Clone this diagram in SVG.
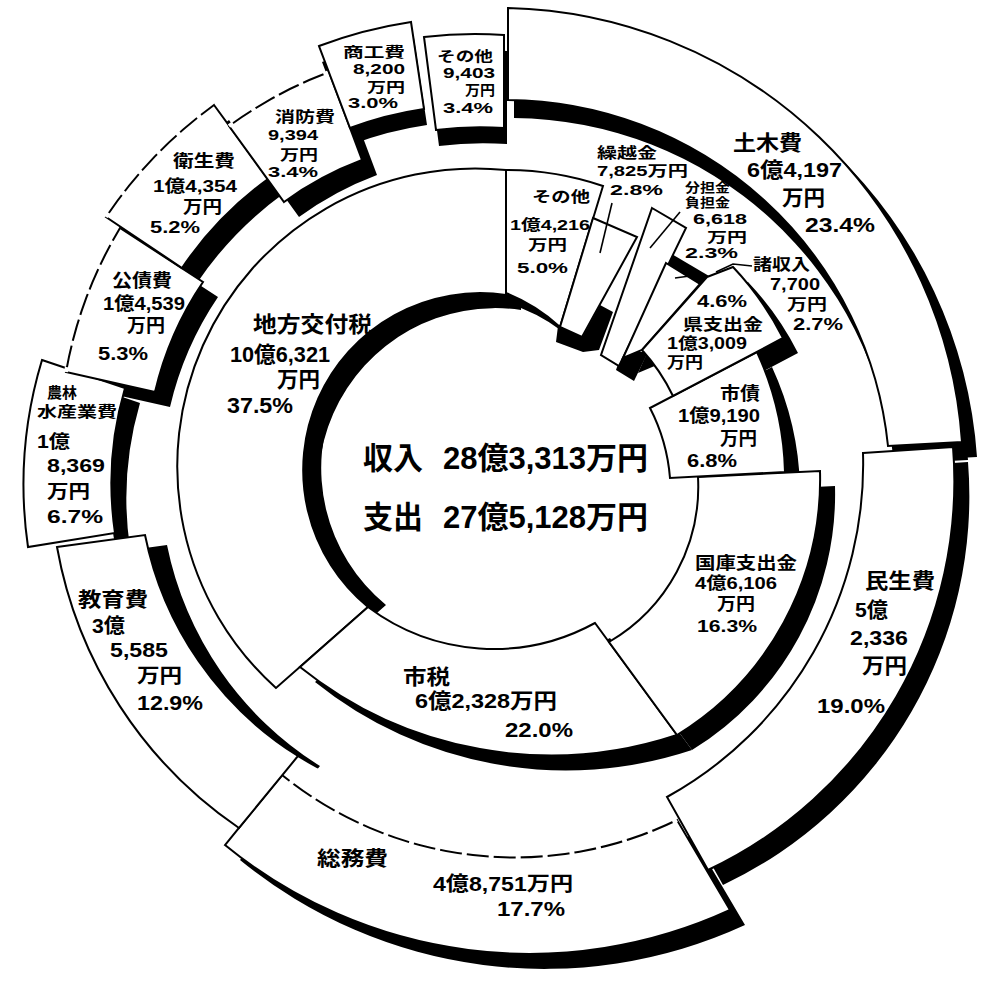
<svg xmlns="http://www.w3.org/2000/svg" width="985" height="985" viewBox="0 0 985 985">
<style>
.pc{fill:#fff;stroke:#000;stroke-width:2;stroke-linejoin:miter}
.dsh{fill:none;stroke:#fff;stroke-width:4;stroke-dasharray:5 22}
.ld{fill:none;stroke:#000;stroke-width:1.6}
text{font-family:"Liberation Sans","Noto Sans CJK JP","Noto Sans CJK SC",sans-serif;font-weight:700;fill:#000}
.f31{font-size:31px}.f22{font-size:22px}.f21{font-size:21px}.f20{font-size:20px}.f18{font-size:18px}.f17{font-size:17px}.f16{font-size:16px}.f15{font-size:15px}.f14{font-size:14px}.f13{font-size:13px}
</style>
<rect width="985" height="985" fill="#fff"/>
<defs>
<clipPath id="cHole"><circle cx="480" cy="470" r="178"/></clipPath>
<clipPath id="cIn341"><circle cx="477" cy="467" r="341"/></clipPath>
<clipPath id="cIn370"><circle cx="477" cy="467" r="370"/></clipPath>
<clipPath id="cBarEnd"><rect x="585" y="352" width="70" height="50"/></clipPath>
<clipPath id="cOut290"><path clip-rule="evenodd" d="M0,0H985V985H0Z M187,467 A290,290 0 1 0 767,467 A290,290 0 1 0 187,467 Z"/></clipPath>
<path id="p-chihou" d="M506,170 A298,298 0 0 0 276,688 L368,607 A177,177 0 0 1 506,295 Z"/>
<path id="p-shizei" d="M368,607 L300,667 A400,400 0 0 0 677,735 L595,623 A210,210 0 0 1 368,607 Z"/>
<path id="p-kokko" d="M698,477 L820,471 A300,300 0 0 1 677,735 L609,642 A180,180 0 0 0 698,477 Z"/>
<path id="p-shisai" d="M650,408 L757,352 A305,305 0 0 1 785,472 L670,478 A185,185 0 0 0 650,408 Z"/>
<path id="p-ken" d="M707,277 L733,267 A300,300 0 0 1 783,338 L673,396 A190,190 0 0 0 642,350 Z"/>
<path id="p-sho" d="M666,263 L700,284 L642,350 L623,358 Z"/>
<path id="p-buntan" d="M652,208 L686,228 L619,366 L601,355 Z"/>
<path id="p-kurikoshi" d="M593,218 L637,237 L582,337 L560,327 Z"/>
<path id="p-sonota-r" d="M506,170 A300,300 0 0 1 603,186 L560,327 A175,175 0 0 0 506,293 Z"/>
<path id="p-doboku" d="M508,8 A466,466 0 0 1 962,442 L888,446 A385,385 0 0 0 508,100 Z"/>
<path id="p-minsei" d="M863,453 L953,447 A430,430 0 0 1 708,870 L667,797 A380,380 0 0 0 863,453 Z"/>
<path id="p-soumu" d="M225,845 A480,480 0 0 0 730,910 L677,820 A370,370 0 0 1 282,775 Z"/>
<path id="p-kyoiku" d="M57,547 L145,535 A340,340 0 0 0 298,756 L239,828 A432,432 0 0 1 57,547 Z"/>
<path id="p-nourin" d="M42,360 L125,388 A342,342 0 0 0 115,533 L28,547 A432,432 0 0 1 42,360 Z"/>
<path id="p-kousai" d="M120,228 L203,282 A330,330 0 0 0 155,392 L66,372 A425,425 0 0 1 120,228 Z"/>
<path id="p-eisei" d="M214,105 L268,179 A356,356 0 0 0 182,268 L106,217 A447,447 0 0 1 214,105 Z"/>
<path id="p-shoubou" d="M229,126 A422,422 0 0 1 329,72 L362,160 A328,328 0 0 0 284,202 Z"/>
<path id="p-shoukou" d="M319,46 A450,450 0 0 1 411,22 L424,109 A362,362 0 0 0 350,128 Z"/>
<path id="p-sonota-e" d="M424,37 A433,433 0 0 1 504,35 L504,128 A340,340 0 0 0 436,130 Z"/>
</defs>

<g id="shadows" fill="#000">
<g clip-path="url(#cHole)">
<use href="#p-chihou" transform="translate(15 15)"/><use href="#p-chihou" transform="translate(18 -2)"/>
<use href="#p-sonota-r" transform="translate(15 15)"/>
</g>
<g clip-path="url(#cIn341)"><use href="#p-kyoiku" transform="translate(22 10)"/></g>
<g clip-path="url(#cIn370)"><use href="#p-nourin" transform="translate(15 15)"/></g>
<g clip-path="url(#cOut290)"><use href="#p-shisai" transform="translate(15 15)"/></g>
<g clip-path="url(#cBarEnd)"><use href="#p-buntan" transform="translate(15 15)"/></g>
<use href="#p-doboku" transform="translate(6 18)"/>
<g transform="translate(15 15)">
<use href="#p-shizei"/><use href="#p-kokko"/><use href="#p-ken"/><use href="#p-sho"/>
<use href="#p-doboku"/><use href="#p-minsei"/><use href="#p-soumu"/><use href="#p-kousai"/><use href="#p-eisei"/><use href="#p-shoubou"/>
</g>
<g transform="translate(3 16)"><use href="#p-shoukou"/><use href="#p-sonota-e"/></g>
<path d="M558,326 L583,336 L600,305 L613,312 L599,350 L583,352 L556,342 Z"/>
<path d="M670,253 L709,276 L702,286 L665,263 Z"/>
</g>

<!-- expenditure ring -->
<g id="exp-doboku"><use href="#p-doboku" class="pc"/>
<text class="f21" x="733" y="150" textLength="69" lengthAdjust="spacingAndGlyphs">土木費</text>
<text class="f21" x="747" y="177" textLength="95" lengthAdjust="spacingAndGlyphs">6億4,197</text>
<text class="f21" x="782" y="205" textLength="43" lengthAdjust="spacingAndGlyphs">万円</text>
<text class="f21" x="805" y="232" textLength="70" lengthAdjust="spacingAndGlyphs">23.4%</text>
</g>
<g id="exp-minsei"><use href="#p-minsei" class="pc"/>
<text class="f21" x="865" y="588" textLength="70" lengthAdjust="spacingAndGlyphs">民生費</text>
<text class="f21" x="855" y="617" textLength="33" lengthAdjust="spacingAndGlyphs">5億</text>
<text class="f21" x="850" y="645" textLength="58" lengthAdjust="spacingAndGlyphs">2,336</text>
<text class="f21" x="862" y="673" textLength="45" lengthAdjust="spacingAndGlyphs">万円</text>
<text class="f21" x="817" y="713" textLength="68" lengthAdjust="spacingAndGlyphs">19.0%</text>
</g>
<g id="exp-soumu"><use href="#p-soumu" class="pc"/>
<path class="dsh" d="M677,820 A370,370 0 0 1 282,775"/>
<text class="f20" x="317" y="866" textLength="71" lengthAdjust="spacingAndGlyphs">総務費</text>
<text class="f20" x="433" y="891" textLength="140" lengthAdjust="spacingAndGlyphs">4億8,751万円</text>
<text class="f20" x="497" y="916" textLength="68" lengthAdjust="spacingAndGlyphs">17.7%</text>
</g>
<g id="exp-kyoiku"><use href="#p-kyoiku" class="pc"/>
<text class="f20" x="78" y="607" textLength="70" lengthAdjust="spacingAndGlyphs">教育費</text>
<text class="f20" x="92" y="633" textLength="33" lengthAdjust="spacingAndGlyphs">3億</text>
<text class="f20" x="110" y="657" textLength="58" lengthAdjust="spacingAndGlyphs">5,585</text>
<text class="f20" x="137" y="683" textLength="45" lengthAdjust="spacingAndGlyphs">万円</text>
<text class="f20" x="137" y="710" textLength="66" lengthAdjust="spacingAndGlyphs">12.9%</text>
</g>
<g id="exp-nourin"><use href="#p-nourin" class="pc"/>
<text class="f15" x="47" y="398" textLength="30" lengthAdjust="spacingAndGlyphs">農林</text>
<text class="f15" x="37" y="417" textLength="80" lengthAdjust="spacingAndGlyphs">水産業費</text>
<text class="f18" x="37" y="448" textLength="33" lengthAdjust="spacingAndGlyphs">1億</text>
<text class="f18" x="47" y="472" textLength="58" lengthAdjust="spacingAndGlyphs">8,369</text>
<text class="f18" x="47" y="498" textLength="43" lengthAdjust="spacingAndGlyphs">万円</text>
<text class="f18" x="47" y="523" textLength="56" lengthAdjust="spacingAndGlyphs">6.7%</text>
</g>
<g id="exp-kousai"><use href="#p-kousai" class="pc"/>
<path class="dsh" d="M66,372 A425,425 0 0 1 120,228"/>
<text class="f18" x="112" y="287" textLength="60" lengthAdjust="spacingAndGlyphs">公債費</text>
<text class="f18" x="103" y="310" textLength="82" lengthAdjust="spacingAndGlyphs">1億4,539</text>
<text class="f18" x="127" y="332" textLength="38" lengthAdjust="spacingAndGlyphs">万円</text>
<text class="f18" x="98" y="360" textLength="50" lengthAdjust="spacingAndGlyphs">5.3%</text>
</g>
<g id="exp-eisei"><use href="#p-eisei" class="pc"/>
<path class="dsh" d="M106,217 A447,447 0 0 1 214,105"/>
<text class="f17" x="173" y="167" textLength="62" lengthAdjust="spacingAndGlyphs">衛生費</text>
<text class="f17" x="153" y="192" textLength="84" lengthAdjust="spacingAndGlyphs">1億4,354</text>
<text class="f17" x="183" y="213" textLength="39" lengthAdjust="spacingAndGlyphs">万円</text>
<text class="f17" x="150" y="233" textLength="50" lengthAdjust="spacingAndGlyphs">5.2%</text>
</g>
<g id="exp-shoubou"><use href="#p-shoubou" class="pc"/>
<path class="dsh" d="M229,126 A422,422 0 0 1 329,72"/>
<text class="f15" x="275" y="122" textLength="60" lengthAdjust="spacingAndGlyphs">消防費</text>
<text class="f15" x="268" y="140" textLength="50" lengthAdjust="spacingAndGlyphs">9,394</text>
<text class="f15" x="280" y="160" textLength="38" lengthAdjust="spacingAndGlyphs">万円</text>
<text class="f15" x="268" y="177" textLength="50" lengthAdjust="spacingAndGlyphs">3.4%</text>
</g>
<g id="exp-shoukou"><use href="#p-shoukou" class="pc"/>
<text class="f14" x="343" y="57" textLength="62" lengthAdjust="spacingAndGlyphs">商工費</text>
<text class="f14" x="353" y="74" textLength="52" lengthAdjust="spacingAndGlyphs">8,200</text>
<text class="f14" x="367" y="92" textLength="38" lengthAdjust="spacingAndGlyphs">万円</text>
<text class="f14" x="348" y="108" textLength="50" lengthAdjust="spacingAndGlyphs">3.0%</text>
</g>
<g id="exp-sonota"><use href="#p-sonota-e" class="pc"/>
<text class="f14" x="437" y="61" textLength="56" lengthAdjust="spacingAndGlyphs">その他</text>
<text class="f14" x="443" y="78" textLength="52" lengthAdjust="spacingAndGlyphs">9,403</text>
<text class="f14" x="465" y="95" textLength="30" lengthAdjust="spacingAndGlyphs">万円</text>
<text class="f14" x="443" y="113" textLength="50" lengthAdjust="spacingAndGlyphs">3.4%</text>
</g>

<!-- revenue ring -->
<g id="rev-chihou"><use href="#p-chihou" class="pc"/>
<text class="f22" x="253" y="332" textLength="119" lengthAdjust="spacingAndGlyphs">地方交付税</text>
<text class="f22" x="230" y="362" textLength="100" lengthAdjust="spacingAndGlyphs">10億6,321</text>
<text class="f22" x="277" y="387" textLength="43" lengthAdjust="spacingAndGlyphs">万円</text>
<text class="f22" x="227" y="413" textLength="66" lengthAdjust="spacingAndGlyphs">37.5%</text>
</g>
<g id="rev-shizei"><use href="#p-shizei" class="pc"/>
<text class="f21" x="403" y="684" textLength="47" lengthAdjust="spacingAndGlyphs">市税</text>
<text class="f21" x="415" y="708" textLength="142" lengthAdjust="spacingAndGlyphs">6億2,328万円</text>
<text class="f21" x="505" y="737" textLength="68" lengthAdjust="spacingAndGlyphs">22.0%</text>
</g>
<g id="rev-kokko"><use href="#p-kokko" class="pc"/>
<text class="f17" x="695" y="569" textLength="102" lengthAdjust="spacingAndGlyphs">国庫支出金</text>
<text class="f17" x="695" y="589" textLength="82" lengthAdjust="spacingAndGlyphs">4億6,106</text>
<text class="f17" x="717" y="610" textLength="38" lengthAdjust="spacingAndGlyphs">万円</text>
<text class="f17" x="697" y="632" textLength="60" lengthAdjust="spacingAndGlyphs">16.3%</text>
</g>
<g id="rev-shisai"><use href="#p-shisai" class="pc"/>
<text class="f18" x="720" y="400" textLength="40" lengthAdjust="spacingAndGlyphs">市債</text>
<text class="f18" x="678" y="422" textLength="82" lengthAdjust="spacingAndGlyphs">1億9,190</text>
<text class="f18" x="720" y="445" textLength="37" lengthAdjust="spacingAndGlyphs">万円</text>
<text class="f18" x="687" y="467" textLength="50" lengthAdjust="spacingAndGlyphs">6.8%</text>
</g>
<g id="rev-sonota"><use href="#p-sonota-r" class="pc"/>
<text class="f15" x="532" y="202" textLength="58" lengthAdjust="spacingAndGlyphs">その他</text>
<text class="f15" x="510" y="230" textLength="80" lengthAdjust="spacingAndGlyphs">1億4,216</text>
<text class="f15" x="528" y="250" textLength="39" lengthAdjust="spacingAndGlyphs">万円</text>
<text class="f15" x="517" y="273" textLength="51" lengthAdjust="spacingAndGlyphs">5.0%</text>
</g>
<g id="rev-kurikoshi"><use href="#p-kurikoshi" class="pc"/>
<text class="f15" x="597" y="158" textLength="60" lengthAdjust="spacingAndGlyphs">繰越金</text>
<text class="f15" x="597" y="176" textLength="91" lengthAdjust="spacingAndGlyphs">7,825万円</text>
<text class="f15" x="610" y="195" textLength="53" lengthAdjust="spacingAndGlyphs">2.8%</text>
</g>
<g id="rev-buntan"><use href="#p-buntan" class="pc"/>
<text class="f13" x="685" y="192" textLength="45" lengthAdjust="spacingAndGlyphs">分担金</text>
<text class="f13" x="685" y="207" textLength="45" lengthAdjust="spacingAndGlyphs">負担金</text>
<text class="f14" x="693" y="224" textLength="54" lengthAdjust="spacingAndGlyphs">6,618</text>
<text class="f14" x="707" y="242" textLength="40" lengthAdjust="spacingAndGlyphs">万円</text>
<text class="f14" x="685" y="258" textLength="53" lengthAdjust="spacingAndGlyphs">2.3%</text>
</g>
<g id="rev-shoshuunyuu"><use href="#p-sho" class="pc"/>
<text class="f16" x="753" y="270" textLength="57" lengthAdjust="spacingAndGlyphs">諸収入</text>
<text class="f16" x="770" y="290" textLength="50" lengthAdjust="spacingAndGlyphs">7,700</text>
<text class="f16" x="787" y="310" textLength="40" lengthAdjust="spacingAndGlyphs">万円</text>
<text class="f16" x="793" y="330" textLength="50" lengthAdjust="spacingAndGlyphs">2.7%</text>
</g>
<g id="rev-ken"><use href="#p-ken" class="pc"/>
<text class="f16" x="697" y="307" textLength="50" lengthAdjust="spacingAndGlyphs">4.6%</text>
<text class="f16" x="683" y="330" textLength="80" lengthAdjust="spacingAndGlyphs">県支出金</text>
<text class="f16" x="667" y="349" textLength="80" lengthAdjust="spacingAndGlyphs">1億3,009</text>
<text class="f16" x="667" y="368" textLength="36" lengthAdjust="spacingAndGlyphs">万円</text>
</g>

<g id="center-total">
<text class="f31" x="363" y="469" textLength="60" lengthAdjust="spacingAndGlyphs">収入</text>
<text class="f31" x="443" y="469" textLength="205" lengthAdjust="spacingAndGlyphs">28億3,313万円</text>
<text class="f31" x="363" y="528" textLength="60" lengthAdjust="spacingAndGlyphs">支出</text>
<text class="f31" x="443" y="528" textLength="205" lengthAdjust="spacingAndGlyphs">27億5,128万円</text>
</g>

<g id="connectors">
<path class="ld" d="M612,203 L600,253"/>
<path class="ld" d="M680,212 L650,248"/>
<path class="ld" d="M716,272 L733,264 L752,266"/>
<path class="ld" d="M675,278 L697,275"/>
</g>
</svg>
